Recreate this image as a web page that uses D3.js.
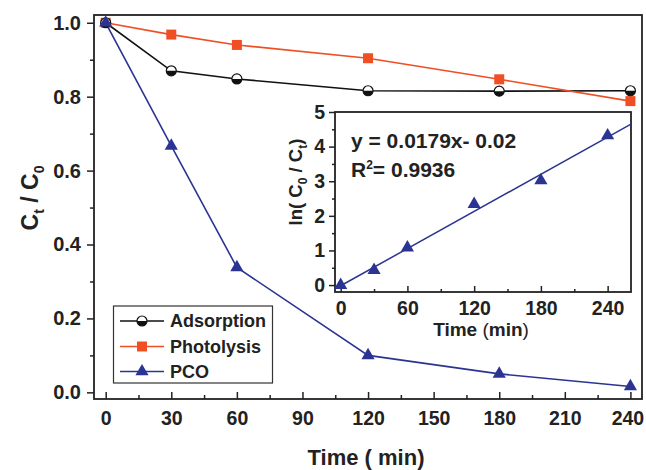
<!DOCTYPE html>
<html><head><meta charset="utf-8">
<script src="https://cdn.jsdelivr.net/npm/d3@7"></script>
<style>
body{margin:0;background:#fff;}
svg{display:block;font-family:"Liberation Sans",Arial,sans-serif;font-weight:bold;}
</style></head>
<body><svg id="c" width="646" height="470"></svg>
<script>
// ---- data ----
const times = [0, 30, 60, 120, 180, 240];
const adsorption = [1.0, 0.870, 0.848, 0.816, 0.815, 0.816];
const photolysis = [1.0, 0.968, 0.940, 0.904, 0.847, 0.788];
const pco = [1.0, 0.667, 0.338, 0.100, 0.050, 0.016];
const xTicks = [0, 30, 60, 90, 120, 150, 180, 210, 240];
const yTicks = [0.0, 0.2, 0.4, 0.6, 0.8, 1.0];
const insetTimes = [0, 30, 60, 120, 180, 240];
const insetLn = [0.0, 0.43, 1.08, 2.34, 3.02, 4.32];
const insetXTicks = [0, 60, 120, 180, 240];
const insetYTicks = [0, 1, 2, 3, 4, 5];
const fitSlope = 0.0179, fitIntercept = -0.02;
const seriesNames = ["Adsorption", "Photolysis", "PCO"];

const cBlack = "#111", cOrange = "#F04E23", cBlue = "#2B3493";
const svg = d3.select("#c");

// ---- main plot ----
const L = 94, R = 642, T = 15, B = 399;
const x = d3.scaleLinear().domain([-5.35, 245.3]).range([L, R]);
const y = d3.scaleLinear().domain([-0.018, 1.021]).range([B, T]);

function styleAxis(g, fs) {
  g.select(".domain").remove();
  g.selectAll("line").attr("stroke", "#222").attr("stroke-width", 1.5);
  g.selectAll("text").attr("fill", "#222").style("font-size", fs + "px").style("font-weight", "bold")
   .style("font-family", '"Liberation Sans",Arial,sans-serif');
}
// x axis (ticks inward)
const gx = svg.append("g").attr("transform", `translate(0,${B})`)
  .call(d3.axisBottom(x).tickValues(xTicks).tickSizeInner(-7).tickSizeOuter(0).tickPadding(12));
styleAxis(gx, 19.5);
gx.selectAll(".tick text").filter(d => d === xTicks[xTicks.length - 1]).attr("dx", -3);
const gxm = svg.append("g").attr("transform", `translate(0,${B})`)
  .call(d3.axisBottom(x).tickValues(xTicks.slice(0, -1).map(v => v + 15)).tickSizeInner(-4).tickSizeOuter(0).tickFormat(""));
styleAxis(gxm, 19.5);
// y axis (ticks outward)
const gy = svg.append("g").attr("transform", `translate(${L},0)`)
  .call(d3.axisLeft(y).tickValues(yTicks).tickFormat(d3.format(".1f")).tickSizeInner(7).tickSizeOuter(0).tickPadding(6));
styleAxis(gy, 20);
const gym = svg.append("g").attr("transform", `translate(${L},0)`)
  .call(d3.axisLeft(y).tickValues(yTicks.slice(0, -1).map(v => v + 0.1)).tickSizeInner(4).tickSizeOuter(0).tickFormat(""));
styleAxis(gym, 20);
svg.append("rect").attr("x", L).attr("y", T).attr("width", R - L).attr("height", B - T)
  .attr("fill", "none").attr("stroke", "#222").attr("stroke-width", 1.8);

// titles
svg.append("text").attr("x", 366).attr("y", 465).attr("text-anchor", "middle")
  .style("font-size", "22px").attr("fill", "#222").text("Time ( min)");
const yt = svg.append("text").attr("transform", "translate(38,198) rotate(-90)").attr("text-anchor", "middle")
  .style("font-size", "23px").attr("fill", "#222");
yt.append("tspan").text("C");
yt.append("tspan").attr("dy", 6).style("font-size", "14px").text("t");
yt.append("tspan").attr("dy", -6).text(" / C");
yt.append("tspan").attr("dy", 6).style("font-size", "14px").text("0");

// lines
const line = d3.line().x((d, i) => x(times[i])).y(d => y(d));
const series = [[adsorption, cBlack], [photolysis, cOrange], [pco, cBlue]];
series.forEach(([vals, col]) => {
  svg.append("path").datum(vals).attr("d", line).attr("fill", "none").attr("stroke", col).attr("stroke-width", 1.6);
});

function halfCircle(g, cx, cy, r) {
  g.append("circle").attr("cx", cx).attr("cy", cy).attr("r", r).attr("fill", "#fff").attr("stroke", cBlack).attr("stroke-width", 1.2);
  g.append("path").attr("d", `M${cx - r},${cy} A${r},${r} 0 0 0 ${cx + r},${cy} Z`).attr("fill", cBlack);
}
const sq = d3.symbol().type(d3.symbolSquare).size(100);
const tri = d3.symbol().type(d3.symbolTriangle).size(75);

photolysis.forEach((v, i) => svg.append("path").attr("d", sq()).attr("transform", `translate(${x(times[i])},${y(v)})`).attr("fill", cOrange));
adsorption.forEach((v, i) => halfCircle(svg, x(times[i]), y(v), 5));
pco.forEach((v, i) => svg.append("path").attr("d", tri()).attr("transform", `translate(${x(times[i])},${y(v)})`).attr("fill", cBlue));

// legend
const lg = svg.append("g");
lg.append("rect").attr("x", 113.5).attr("y", 306).attr("width", 159).attr("height", 77)
  .attr("fill", "#fff").attr("stroke", "#333").attr("stroke-width", 1.2);
const legY = [321, 346.5, 371.5];
const legCols = [cBlack, cOrange, cBlue];
seriesNames.forEach((n, i) => {
  lg.append("line").attr("x1", 120).attr("x2", 164).attr("y1", legY[i]).attr("y2", legY[i]).attr("stroke", legCols[i]).attr("stroke-width", 1.6);
  if (i === 0) halfCircle(lg, 142, legY[i], 5);
  else lg.append("path").attr("d", (i === 1 ? sq : tri)()).attr("transform", `translate(142,${legY[i]})`).attr("fill", legCols[i]);
  lg.append("text").attr("x", 170).attr("y", legY[i]).attr("dy", "0.35em").style("font-size", "18px").attr("fill", "#222").text(n);
});

// ---- inset ----
const iL = 335, iR = 631, iT = 112, iB = 292;
const ix = d3.scaleLinear().domain([-5.1, 261]).range([iL, iR]);
const iy = d3.scaleLinear().domain([-0.2, 5]).range([iB, iT]);
svg.append("rect").attr("x", iL).attr("y", iT).attr("width", iR - iL).attr("height", iB - iT)
  .attr("fill", "#fff").attr("stroke", "#222").attr("stroke-width", 1.8);
const gix = svg.append("g").attr("transform", `translate(0,${iB})`)
  .call(d3.axisBottom(ix).tickValues(insetXTicks).tickSizeInner(-6).tickSizeOuter(0).tickPadding(9));
styleAxis(gix, 19.5);
const gixm = svg.append("g").attr("transform", `translate(0,${iB})`)
  .call(d3.axisBottom(ix).tickValues(insetXTicks.slice(0, -1).map(v => v + 30)).tickSizeInner(-3).tickSizeOuter(0).tickFormat(""));
styleAxis(gixm, 19.5);
const giy = svg.append("g").attr("transform", `translate(${iL},0)`)
  .call(d3.axisLeft(iy).tickValues(insetYTicks).tickFormat(d3.format("d")).tickSizeInner(6).tickSizeOuter(0).tickPadding(4));
styleAxis(giy, 19.5);
const giym = svg.append("g").attr("transform", `translate(${iL},0)`)
  .call(d3.axisLeft(iy).tickValues(insetYTicks.slice(0, -1).map(v => v + 0.5)).tickSizeInner(3).tickSizeOuter(0).tickFormat(""));
styleAxis(giym, 19.5);

const fitX = [0, 261];
svg.append("path").datum(fitX).attr("d", d3.line().x(d => ix(d)).y(d => iy(fitSlope * d + fitIntercept)))
  .attr("fill", "none").attr("stroke", cBlue).attr("stroke-width", 1.5);
insetLn.forEach((v, i) => svg.append("path").attr("d", tri()).attr("transform", `translate(${ix(insetTimes[i])},${iy(v)})`).attr("fill", cBlue));

const it = svg.append("text").attr("x", 481).attr("y", 336).attr("text-anchor", "middle")
  .style("font-size", "19px").attr("fill", "#222");
it.append("tspan").text("Time ");
it.append("tspan").style("font-weight", "normal").text("(");
it.append("tspan").text("min");
it.append("tspan").style("font-weight", "normal").text(")");

const iyt = svg.append("text").attr("transform", "translate(302,182) rotate(-90)").attr("text-anchor", "middle")
  .style("font-size", "18.5px").attr("fill", "#222");
iyt.append("tspan").text("ln( C");
iyt.append("tspan").attr("dy", 5).style("font-size", "12px").text("0");
iyt.append("tspan").attr("dy", -5).text(" / C");
iyt.append("tspan").attr("dy", 5).style("font-size", "12px").text("t");
iyt.append("tspan").attr("dy", -5).text(")");

svg.append("text").attr("x", 351).attr("y", 148).style("font-size", "21px").attr("fill", "#222")
  .text(`y = ${fitSlope}x- ${Math.abs(fitIntercept).toFixed(2)}`);
const r2 = svg.append("text").attr("x", 351).attr("y", 177).style("font-size", "21px").attr("fill", "#222");
r2.append("tspan").text("R");
r2.append("tspan").attr("dy", -8).style("font-size", "12px").text("2");
r2.append("tspan").attr("dy", 8).text("= 0.9936");
</script></body></html>
